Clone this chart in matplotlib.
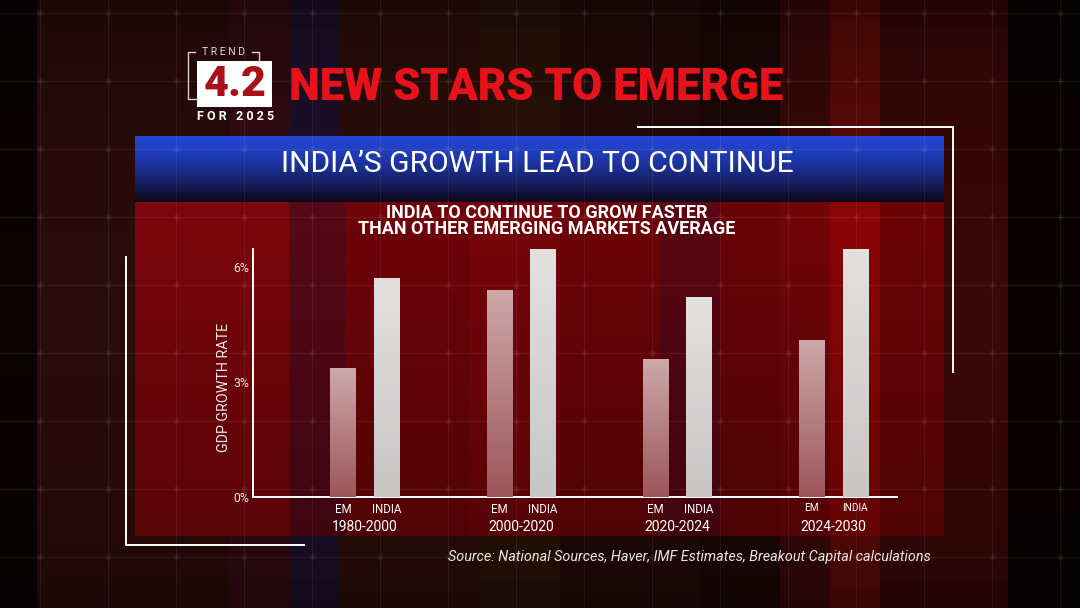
import numpy as np
import matplotlib
matplotlib.use("Agg")
import matplotlib.pyplot as plt
from matplotlib.patches import Rectangle
from matplotlib.colors import to_rgb

plt.rcParams['font.family'] = ['Roboto', 'DejaVu Sans']

# data
periods = ["1980-2000", "2000-2020", "2020-2024", "2024-2030"]
em_growth = [3.35, 5.4, 3.6, 4.1]
india_growth = [5.7, 6.45, 5.2, 6.45]
series_labels = ["EM", "INDIA"]
y_ticks = [0, 3, 6]
y_tick_labels = ["0%", "3%", "6%"]

W, H = 1080, 608
fig = plt.figure(figsize=(W / 100, H / 100), dpi=100)


def fx(px):
    return px / W


def fy(py):
    return 1 - py / H


def vgrad(top, bottom, n=64, power=1.0):
    # column of colours, row 0 = top
    t = np.linspace(0, 1, n)[:, None] ** power
    return (1 - t) * np.array(to_rgb(top)) + t * np.array(to_rgb(bottom))


# ---- background (pixel coordinates, y pointing down)
bg = fig.add_axes([0, 0, 1, 1])
bg.set_xlim(0, W)
bg.set_ylim(H, 0)
bg.axis('off')

outer = [(0, 37, '#0a0404'), (37, 230, '#2a0c0a'), (230, 290, '#330b14'),
         (290, 340, '#1e0f2a'), (340, 480, '#2a0e09'), (480, 560, '#2a1209'),
         (560, 700, '#230909'), (700, 780, '#1c0707'), (780, 830, '#380908'),
         (830, 880, '#5a0a07'), (880, 1008, '#380707'), (1008, 1080, '#090303')]
for x0, x1, c in outer:
    bg.add_patch(Rectangle((x0, 0), x1 - x0, H, fc=c, ec='none', zorder=0))

# darker towards the top and bottom edges
shade = np.zeros((64, 1, 4))
shade[:, 0, 3] = np.abs(np.linspace(-1, 1, 64)) ** 3 * 0.35
bg.imshow(shade, extent=[0, W, H, 0], aspect='auto', zorder=0.5)

# red panel
panel = [(135, 290, '#7c060b'), (290, 345, '#560816'), (345, 470, '#700409'),
         (470, 560, '#780509'), (560, 660, '#6e0407'), (660, 720, '#5a0612'),
         (720, 780, '#6a0407'), (780, 830, '#720508'), (830, 880, '#8c0606'),
         (880, 944, '#6c0406')]
for x0, x1, c in panel:
    bg.add_patch(Rectangle((x0, 202), x1 - x0, 334, fc=c, ec='none', zorder=1))
pshade = np.zeros((64, 1, 4))
pshade[:, 0, 3] = np.linspace(0, 0.28, 64)
bg.imshow(pshade, extent=[135, 944, 536, 202], aspect='auto', zorder=1.2)

# blue header bar
hdr = vgrad('#2346d4', '#0d0618', power=1.4)
bg.imshow(hdr[:, None, :], extent=[135, 944, 202, 136], aspect='auto', zorder=1.5)

# faint grid with nodes
gx = np.arange(39.6, W, 68)
gy = np.arange(13.3, H, 68)
for x in gx:
    bg.plot([x, x], [0, H], color='white', alpha=0.07, lw=0.8, zorder=2)
for y in gy:
    bg.plot([0, W], [y, y], color='white', alpha=0.07, lw=0.8, zorder=2)
XX, YY = np.meshgrid(gx, gy)
bg.scatter(XX.ravel(), YY.ravel(), s=22, color='white', alpha=0.05, lw=0, zorder=2)

# white frame lines
bg.plot([126.4, 126.4, 303.7], [256.7, 544.7, 544.7], color='white', lw=1.4, zorder=3)
bg.plot([638, 953, 953], [127, 127, 372], color='white', lw=1.4, zorder=3)

# trend badge
bg.add_patch(Rectangle((197, 61), 75, 46, fc='white', ec='none', zorder=3))
bg.plot([195, 187.7, 187.7, 197], [52, 52, 99, 99], color='#d8d0d0', lw=1, zorder=3)
bg.plot([252.4, 259, 259], [52, 52, 61], color='#d8d0d0', lw=1, zorder=3)
fig.text(fx(224), fy(52), "T R E N D", ha='center', va='center', fontsize=7.5,
         color='#e0d8d8')
fig.text(fx(235), fy(84), "4.2", ha='center', va='center', fontsize=31,
         fontweight='black', color='#a8101a')
fig.text(fx(235.5), fy(116.5), "F O R   2 0 2 5", ha='center', va='center',
         fontsize=9, fontweight='bold', color='white')
fig.text(fx(289), fy(88.5), "NEW STARS TO EMERGE", ha='left', va='center',
         fontsize=31.5, fontweight='black', color='#e8131a')

fig.text(fx(537), fy(164.5), "INDIA\u2019S GROWTH LEAD TO CONTINUE", ha='center',
         va='center', fontsize=21.6, color='white')
fig.text(fx(547), fy(221), "INDIA TO CONTINUE TO GROW FASTER\n"
         "THAN OTHER EMERGING MARKETS AVERAGE", ha='center', va='center',
         multialignment='center', fontsize=13, linespacing=0.92,
         fontweight='bold', color='white')

# ---- the bar chart
ax = fig.add_axes([fx(253.4), fy(497.3), (897 - 253.4) / W, (497.3 - 249.3) / H])
ax.patch.set_alpha(0)
x = np.arange(len(periods))
off, bw = 0.139, 0.163
em_bars = ax.bar(x - off, em_growth, width=bw, color='none', zorder=3)
in_bars = ax.bar(x + off, india_growth, width=bw, color='none', zorder=3)


def fill_gradient(bars, top, bottom):
    for b in bars:
        x0, w, h = b.get_x(), b.get_width(), b.get_height()
        im = ax.imshow(vgrad(top, bottom)[:, None, :], extent=[x0, x0 + w, 0, h],
                       aspect='auto', origin='upper', zorder=3)
        im.set_clip_path(b)


fill_gradient(em_bars, '#cda8a9', '#9c565b')
fill_gradient(in_bars, '#e3e0e0', '#c8c5c5')

ax.set_xlim(-0.713, 3.406)
ax.set_ylim(0, 6.45)
for s in ['top', 'right']:
    ax.spines[s].set_visible(False)
for s in ['left', 'bottom']:
    ax.spines[s].set_color('white')
    ax.spines[s].set_linewidth(1.4)

ax.set_yticks(y_ticks, y_tick_labels)
ax.tick_params(axis='y', length=0, pad=3, labelcolor='#ece4e4', labelsize=8.8)
xt = np.ravel(np.column_stack([x - off, x + off]))
xl = series_labels * len(periods)
ax.set_xticks(xt, xl)
ax.tick_params(axis='x', length=0, pad=4, labelcolor='white', labelsize=8.3)
for lab in ax.get_xticklabels()[-2:]:
    lab.set_fontsize(7.2)
for xi, p in zip(x, periods):
    ax.text(xi, -0.12, p, transform=ax.get_xaxis_transform(), ha='center',
            va='center', fontsize=10, color='white')

fig.text(fx(224), fy(387.5), "GDP GROWTH RATE", rotation=90, ha='center',
         va='center', fontsize=10.3, color='#f0e8e8')
fig.text(fx(931), fy(557), "Source: National Sources, Haver, IMF Estimates, "
         "Breakout Capital calculations", ha='right', va='center', fontsize=10.4,
         style='italic', color='#ece6e6')

fig.savefig("out.png", dpi=100)
